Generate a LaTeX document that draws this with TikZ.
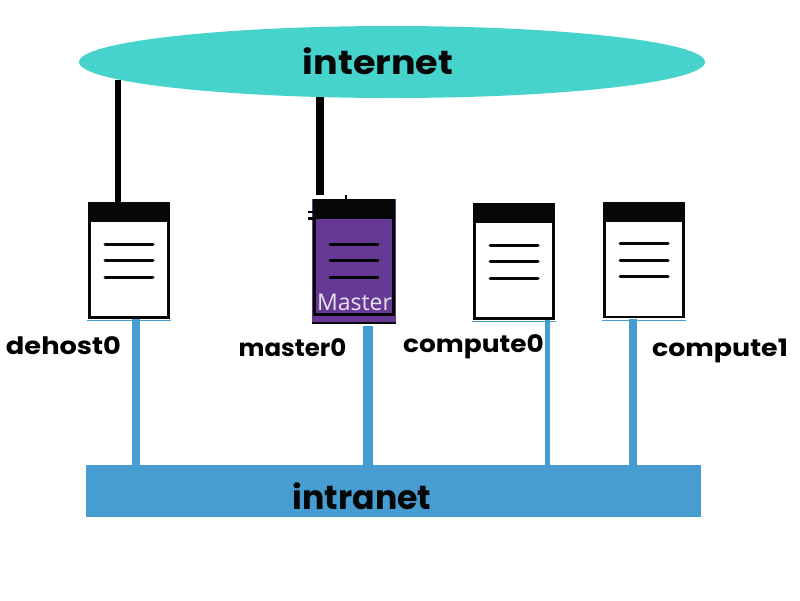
\documentclass[tikz,border=0pt]{standalone}
\usepackage{graphicx}
\usepackage{fontspec}
\setmainfont{Poppins}
\newfontfamily\tagfont{Open Sans}
\definecolor{cloudc}{HTML}{45D3CC}
\definecolor{netc}{HTML}{479DD1}
\definecolor{purplec}{HTML}{663A94}
\definecolor{inkc}{HTML}{060808}
\usetikzlibrary{shapes.geometric}
\tikzset{
  cloudnet/.style={ellipse,fill=cloudc,minimum width=626pt,minimum height=72pt,inner sep=0pt},
  lannet/.style={rectangle,fill=netc,minimum width=615pt,minimum height=52pt,inner sep=0pt},
  bigtext/.style={font=\bfseries\fontsize{33.5pt}{36pt}\selectfont,text=inkc,inner sep=0pt},
  lbl/.style={font=\bfseries\fontsize{24pt}{26pt}\selectfont,text=black,inner sep=0pt,anchor=base},
  serverbox/.style={rectangle,draw=inkc,line width=2.6pt,fill=#1,minimum width=79pt,minimum height=114pt,inner sep=0pt},
  hdr/.style={fill=inkc,draw=none},
  rowline/.style={draw=inkc,line width=3pt,line cap=round},
  wan/.style={draw=black,line width=5.5pt},
  wanb/.style={draw=black,line width=8pt},
  lan/.style={draw=netc,line width=8pt},
  lanb/.style={draw=netc,line width=10pt},
  lanc/.style={draw=netc,line width=5pt},
  edgeline/.style={draw=netc,line width=1pt},
}
% header band and three text rows of a server icon; #2 is the rise of the top row above the centre
\newcommand{\serverdetail}[2]{%
  \fill[hdr] (#1.north west) rectangle ([yshift=-20pt]#1.north east);
  \draw[rowline] ([xshift=-24pt,yshift=#2]#1.center) -- ([xshift=24pt,yshift=#2]#1.center);
  \draw[rowline] ([xshift=-24pt,yshift=#2-16.5pt]#1.center) -- ([xshift=24pt,yshift=#2-16.5pt]#1.center);
  \draw[rowline] ([xshift=-24pt,yshift=#2-33pt]#1.center) -- ([xshift=24pt,yshift=#2-33pt]#1.center);
}
\begin{document}
\begin{tikzpicture}[x=1pt,y=-1pt]
\useasboundingbox (0,0) rectangle (800,600);
\node[cloudnet] (internet) at (392,62) {};
\node[lannet] (intranet) at (393.5,491) {};
\node[bigtext] (internetlabel) at (378,61) {\scalebox{1.09}[1]{internet}};
\node[bigtext] (intranetlabel) at (362,496) {\scalebox{0.99}[1]{intranet}};

\node[serverbox=white] (dehost) at (129,260.5) {};
\node[rectangle,fill=purplec,minimum width=84pt,minimum height=125pt,inner sep=0pt] (masterbg) at (354,261.5) {};
\node[serverbox=purplec] (master) at (354,257.5) {};
\node[serverbox=white] (computea) at (514,261.5) {};
\node[serverbox=white] (computeb) at (644,260) {};

\serverdetail{dehost}{16.5pt}
\serverdetail{master}{13.5pt}
\serverdetail{computea}{16.5pt}
\serverdetail{computeb}{16.5pt}

% master icon details
\fill[inkc] ([yshift=2pt]masterbg.south west) rectangle (masterbg.south east);
\node[font=\tagfont\fontsize{23pt}{24pt}\selectfont,text=white!85!purplec,inner sep=0pt] (mastertag) at (354.5,302) {Master};
\fill[black] (308,210.5) rectangle (313,213);
\fill[black] (308,217) rectangle (313,219.5);
\coordinate (tick) at (346,195);
\draw[black,line width=2.5pt] (tick) -- (tick |- master.north);

% wan connectors
\coordinate (wanA) at (118,80);
\coordinate (wanB) at (320,97);
\coordinate (wanBend) at (320,195);
\draw[wan] (wanA) -- (wanA |- dehost.north);
\draw[wanb] (wanB) -- (wanBend);

% lan connectors
\coordinate (lanA) at (136,319);
\coordinate (lanB) at (368,326);
\coordinate (lanC) at (547.5,320);
\coordinate (lanD) at (633,319);
\draw[lan] (lanA) -- (lanA |- intranet.north);
\draw[lanb] (lanB) -- (lanB |- intranet.north);
\draw[lanc] (lanC) -- (lanC |- intranet.north);
\draw[lan] (lanD) -- (lanD |- intranet.north);
\draw[edgeline] ([xshift=-1pt,yshift=-2pt]dehost.south west) -- ([xshift=1pt,yshift=-2pt]dehost.south east);
\draw[edgeline] ([xshift=-1pt,yshift=-2pt]computea.south west) -- ([xshift=1pt,yshift=-2pt]computea.south east);
\draw[edgeline] ([xshift=-1pt,yshift=-2pt]computeb.south west) -- ([xshift=1pt,yshift=-2pt]computeb.south east);

% labels
\node[lbl] (l0) at (63.5,354) {\scalebox{1.135}[1]{dehost0}};
\node[lbl] (l1) at (292.5,356) {\scalebox{1.02}[1]{master0}};
\node[lbl] (l2) at (473.5,352) {\scalebox{1.10}[1]{compute0}};
\node[lbl] (l3) at (720,356) {\scalebox{1.12}[1]{compute1}};
\end{tikzpicture}
\end{document}
